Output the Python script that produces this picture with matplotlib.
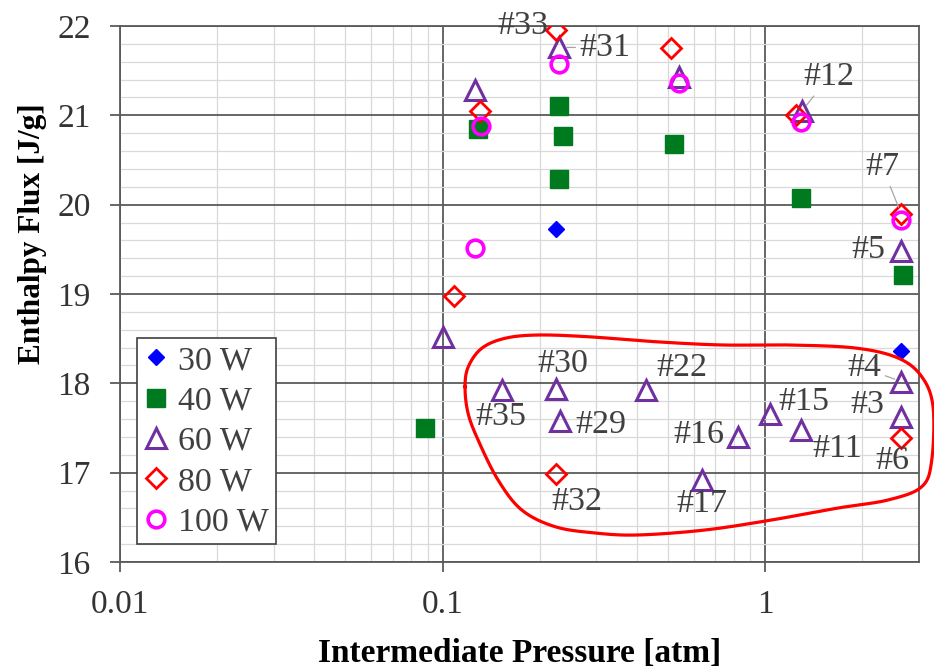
import numpy as np
import matplotlib
matplotlib.use("Agg")
import matplotlib.pyplot as plt
from matplotlib.ticker import LogLocator, MultipleLocator, FixedLocator, FixedFormatter, NullFormatter
from matplotlib.lines import Line2D

plt.rcParams['font.family'] = ['Liberation Serif', 'DejaVu Serif']

# ---- data: intermediate pressure [atm] vs enthalpy flux [J/g] per heater power ----
x_30w = [0.225, 2.64]
y_30w = [19.73, 18.36]

x_40w = [0.0885, 0.129, 0.23, 0.237, 0.23, 0.522, 1.29, 2.68]
y_40w = [17.50, 20.85, 21.10, 20.77, 20.29, 20.68, 20.08, 19.21]

x_60w = [0.100, 0.126, 0.153, 0.225, 0.230, 0.231, 0.427, 0.541,
         0.639, 0.826, 1.036, 1.29, 1.30, 2.64, 2.64, 2.64]
y_60w = [18.52, 21.28, 17.92, 17.94, 21.76, 17.58, 17.92, 21.43,
         16.92, 17.40, 17.66, 17.48, 21.05, 19.48, 18.02, 17.62]

x_80w = [0.1086, 0.1306, 0.225, 0.225, 0.511, 1.245, 2.64, 2.64]
y_80w = [18.98, 21.05, 21.96, 16.99, 21.75, 21.00, 19.90, 17.39]

x_100w = [0.126, 0.132, 0.230, 0.541, 1.29, 2.64]
y_100w = [19.51, 20.88, 21.57, 21.36, 20.93, 19.83]

# run labels and where they are written
run_labels = ["#33", "#31", "#12", "#7", "#5", "#35", "#30", "#29", "#22",
              "#16", "#15", "#11", "#4", "#3", "#6", "#32", "#17"]
label_x = [0.178, 0.319, 1.58, 2.31, 2.09, 0.152, 0.236, 0.31, 0.553,
           0.624, 1.32, 1.67, 2.03, 2.07, 2.48, 0.26, 0.638]
label_y = [22.0, 21.76, 21.43, 20.42, 19.50, 17.63, 18.22, 17.54, 18.18,
           17.42, 17.79, 17.27, 18.17, 17.76, 17.13, 16.67, 16.65]
# labels joined to their point by a thin leader line: label -> (x, y) of the run
leader_targets = {"#31": (0.230, 21.76), "#12": (1.30, 21.05),
                  "#7": (2.64, 19.90), "#4": (2.64, 18.02)}

x_ticks = [0.01, 0.1, 1]
x_tick_labels = ["0.01", "0.1", "1"]
y_ticks = [16, 17, 18, 19, 20, 21, 22]

# outline of the highlighted group of runs (axes fraction)
group_outline = [
    (0.4318, 0.3271), (0.4359, 0.3644), (0.4527, 0.3987), (0.4819, 0.4174),
    (0.5232, 0.4235), (0.5857, 0.4203), (0.6696, 0.4110), (0.7531, 0.4049),
    (0.8360, 0.4049), (0.9199, 0.3993), (0.9737, 0.3806), (1.0034, 0.3457),
    (1.0175, 0.2897), (1.0159, 0.1903), (1.0034, 0.1405), (0.9612, 0.1157),
    (0.8986, 0.1007), (0.8156, 0.0784), (0.7322, 0.0597), (0.6483, 0.0504),
    (0.5945, 0.0541), (0.5444, 0.0659), (0.5028, 0.0970), (0.4731, 0.1530),
    (0.4481, 0.2276), (0.4355, 0.2780),
]


def closed_spline(pts, n=30):
    """Closed Catmull-Rom spline through the given points."""
    P = np.asarray(pts, dtype=float)
    m = len(P)
    t = np.linspace(0, 1, n, endpoint=False)[:, None]
    segs = []
    for i in range(m):
        p0, p1, p2, p3 = P[(i - 1) % m], P[i], P[(i + 1) % m], P[(i + 2) % m]
        segs.append(0.5 * (2 * p1 + (-p0 + p2) * t
                           + (2 * p0 - 5 * p1 + 4 * p2 - p3) * t ** 2
                           + (-p0 + 3 * p1 - 3 * p2 + p3) * t ** 3))
    out = np.vstack(segs)
    return np.vstack([out, out[:1]])


fig = plt.figure(figsize=(9.34, 6.72), dpi=100)
ax = fig.add_axes([0.1285, 0.1637, 0.8555, 0.7976])

ax.set_xscale("log")
ax.set_xlim(0.01, 3.0)
ax.set_ylim(16, 22)

grid_dark = "#5a5a5a"
grid_light = "#d9d9d9"
text_gray = "#333333"

ax.xaxis.set_major_locator(FixedLocator(x_ticks))
ax.xaxis.set_major_formatter(FixedFormatter(x_tick_labels))
ax.xaxis.set_minor_locator(LogLocator(base=10, subs=np.arange(2, 10)))
ax.xaxis.set_minor_formatter(NullFormatter())
ax.yaxis.set_major_locator(FixedLocator(y_ticks))
ax.yaxis.set_minor_locator(MultipleLocator(0.2))

ax.grid(which="minor", color=grid_light, lw=0.9, zorder=0)
ax.grid(which="major", color=grid_dark, lw=1.3, zorder=0.5)
ax.set_axisbelow(True)

ax.tick_params(which="major", direction="out", length=7, width=1.3, color=grid_dark,
               labelsize=24, labelcolor=text_gray, top=False, right=False)
ax.tick_params(axis="x", which="major", pad=13)
ax.tick_params(axis="y", which="major", pad=14)
ax.tick_params(which="minor", length=0)
for s in ax.spines.values():
    s.set_color(grid_dark)
    s.set_linewidth(1.3)

ax.set_xlabel("Intermediate Pressure [atm]", fontsize=24, fontweight="bold", labelpad=13)
ax.set_ylabel("Enthalpy Flux [J/g]", fontsize=22.5, fontweight="bold")
ax.yaxis.set_label_coords(-0.0914, 0.612)

# series
ax.plot(x_30w, y_30w, ls="none", marker="D", ms=8, mfc="#0000ff", mec="#0000ff", zorder=3)
ax.plot(x_40w, y_40w, ls="none", marker="s", ms=13, mfc="#007a1f", mec="#007a1f", zorder=3)
ax.plot(x_60w, y_60w, ls="none", marker="^", ms=15, mfc="none", mec="#7030a0", mew=2.2, zorder=4)
ax.plot(x_80w, y_80w, ls="none", marker="D", ms=10, mfc="none", mec="#ff0000", mew=2.0, zorder=4)
ax.plot(x_100w, y_100w, ls="none", marker="o", ms=12, mfc="none", mec="#ff00ff", mew=2.6, zorder=4)

# run labels
label_size = 24.5
for lab, lx, ly in zip(run_labels, label_x, label_y):
    if lab in leader_targets:
        ax.annotate(lab, xy=leader_targets[lab], xytext=(lx, ly), textcoords="data",
                    ha="center", va="center", fontsize=label_size, color="#404040",
                    annotation_clip=False, zorder=5,
                    arrowprops=dict(arrowstyle="-", color="#a6a6a6", lw=0.9,
                                    shrinkA=1, shrinkB=5))
    else:
        ax.text(lx, ly, lab, ha="center", va="center", fontsize=label_size,
                color="#404040", zorder=5, clip_on=False)

# outline around the low-flux group
curve = closed_spline(group_outline)
ax.plot(curve[:, 0], curve[:, 1], color="#ff0000", lw=2.3, transform=ax.transAxes,
        clip_on=False, zorder=6)

# legend
handles = [
    Line2D([], [], ls="none", marker="D", ms=8, mfc="#0000ff", mec="#0000ff"),
    Line2D([], [], ls="none", marker="s", ms=13, mfc="#007a1f", mec="#007a1f"),
    Line2D([], [], ls="none", marker="^", ms=15, mfc="none", mec="#7030a0", mew=2.2),
    Line2D([], [], ls="none", marker="D", ms=10, mfc="none", mec="#ff0000", mew=2.0),
    Line2D([], [], ls="none", marker="o", ms=12, mfc="none", mec="#ff00ff", mew=2.6),
]
leg = ax.legend(handles, ["30 W", "40 W", "60 W", "80 W", "100 W"],
                loc="lower left", bbox_to_anchor=(0.0217, 0.033), borderaxespad=0,
                fontsize=24.5, frameon=True, fancybox=False, framealpha=1,
                edgecolor="#404040", handlelength=0.7, handletextpad=0.3,
                labelspacing=0.28, borderpad=0.2)
leg.get_frame().set_linewidth(1.2)
for t in leg.get_texts():
    t.set_color("#404040")
leg.set_zorder(7)

fig.savefig("out.png", dpi=100)
